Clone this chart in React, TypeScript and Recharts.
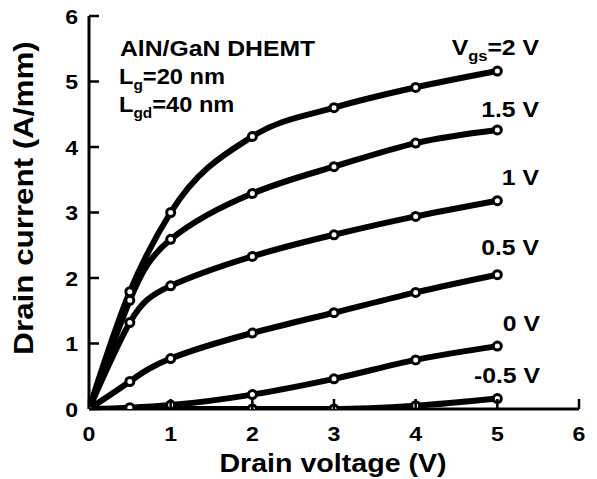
import React from 'react';
import { LineChart, Line, XAxis, YAxis, Customized } from 'recharts';

const vds = [0, 0.5, 1, 2, 3, 4, 5];
const idVgsM05 = [0, 0, 0, 0, 0, 0.05, 0.16];
const idVgs0 = [0, 0.02, 0.06, 0.22, 0.46, 0.75, 0.96];
const idVgs05 = [0, 0.42, 0.77, 1.16, 1.47, 1.78, 2.05];
const idVgs1 = [0, 1.32, 1.88, 2.33, 2.66, 2.94, 3.18];
const idVgs15 = [0, 1.66, 2.59, 3.29, 3.7, 4.06, 4.26];
const idVgs2 = [0, 1.79, 3.0, 4.16, 4.6, 4.91, 5.16];
const xTicks = [0, 1, 2, 3, 4, 5, 6];
const yTicks = [0, 1, 2, 3, 4, 5, 6];

const data = vds.map((v, i) => ({
  vds: v,
  m05: idVgsM05[i],
  v0: idVgs0[i],
  v05: idVgs05[i],
  v1: idVgs1[i],
  v15: idVgs15[i],
  v2: idVgs2[i],
}));

const seriesKeys = ['m05', 'v0', 'v05', 'v1', 'v15', 'v2'];
const seriesCurve: Record<string, any> = {
  m05: 'monotone',
  v0: 'monotone',
  v05: 'natural',
  v1: 'natural',
  v15: 'natural',
  v2: 'monotone',
};

const FONT = '"Liberation Sans", Arial, Helvetica, sans-serif';
const SX = 1.1;

const BottomTick = (props: any) => {
  const { x, y, payload } = props;
  return (
    <g>
      <line x1={x} y1={y} x2={x} y2={y - 10} stroke="#000" strokeWidth={2.5} />
      <text
        transform={`translate(${x},${y + 32}) scale(${SX},1)`}
        textAnchor="middle"
        fontFamily={FONT}
        fontWeight="bold"
        fontSize={21}
        fill="#000"
      >
        {payload.value}
      </text>
    </g>
  );
};

const TopTick = (props: any) => {
  const { x, y } = props;
  return <line x1={x} y1={y} x2={x} y2={y + 10} stroke="#000" strokeWidth={2.5} />;
};

const LeftTick = (props: any) => {
  const { x, y, payload } = props;
  return (
    <g>
      <line x1={x} y1={y} x2={x + 10} y2={y} stroke="#000" strokeWidth={2.5} />
      <text
        transform={`translate(${x - 11},${y + 7.5}) scale(${SX},1)`}
        textAnchor="end"
        fontFamily={FONT}
        fontWeight="bold"
        fontSize={21}
        fill="#000"
      >
        {payload.value}
      </text>
    </g>
  );
};

const RightTick = (props: any) => {
  const { x, y } = props;
  return <line x1={x} y1={y} x2={x - 10} y2={y} stroke="#000" strokeWidth={2.5} />;
};

const T = ({ x, y, anchor = 'start', size = 21, children }: any) => (
  <text
    transform={`translate(${x},${y}) scale(${SX},1)`}
    textAnchor={anchor}
    fontFamily={FONT}
    fontWeight="bold"
    fontSize={size}
    fill="#000"
  >
    {children}
  </text>
);

const Labels = () => (
  <g>
    <T x={120} y={56} size={22.5}>AlN/GaN DHEMT</T>
    <T x={119} y={84} size={21.5}>
      L<tspan fontSize={14} dy={6}>g</tspan>
      <tspan dy={-6}>=20 nm</tspan>
    </T>
    <T x={119} y={112} size={21.5}>
      L<tspan fontSize={14} dy={6}>gd</tspan>
      <tspan dy={-6}>=40 nm</tspan>
    </T>
    <T x={539} y={55} anchor="end" size={22.5}>
      V<tspan fontSize={15} dy={6}>gs</tspan>
      <tspan dy={-6}>=2 V</tspan>
    </T>
    <T x={539} y={117} anchor="end" size={22.5}>1.5 V</T>
    <T x={539} y={185} anchor="end" size={22.5}>1 V</T>
    <T x={539} y={255} anchor="end" size={22.5}>0.5 V</T>
    <T x={540} y={331} anchor="end" size={22.5}>0 V</T>
    <T x={540} y={383} anchor="end" size={22.5}>-0.5 V</T>
    <T x={333} y={472} anchor="middle" size={26}>Drain voltage (V)</T>
    <g transform="translate(33,198) rotate(-90)">
      <text
        transform={`scale(${SX},1)`}
        textAnchor="middle"
        fontFamily={FONT}
        fontWeight="bold"
        fontSize={28.5}
        fill="#000"
      >
        Drain current (A/mm)
      </text>
    </g>
  </g>
);

export default function App() {
  return (
    <div style={{ position: 'absolute', left: 0, top: 0, width: 597, height: 479, background: '#fff' }}>
      <LineChart
        width={597}
        height={479}
        data={data}
        margin={{ top: 16, right: 18, bottom: 0, left: 0 }}
      >
        <XAxis
          dataKey="vds"
          type="number"
          domain={[0, 6]}
          ticks={xTicks}
          interval={0}
          height={70}
          tickSize={0}
          tickMargin={0}
          axisLine={{ stroke: '#000', strokeWidth: 3 }}
          tick={<BottomTick />}
          allowDataOverflow
        />
        <XAxis
          xAxisId="top"
          orientation="top"
          dataKey="vds"
          type="number"
          domain={[0, 6]}
          ticks={xTicks}
          interval={0}
          height={0}
          tickSize={0}
          tickMargin={0}
          axisLine={{ stroke: '#000', strokeWidth: 3 }}
          tick={<TopTick />}
          allowDataOverflow
        />
        <YAxis
          type="number"
          domain={[0, 6]}
          ticks={yTicks}
          interval={0}
          width={89}
          tickSize={0}
          tickMargin={0}
          axisLine={{ stroke: '#000', strokeWidth: 3 }}
          tick={<LeftTick />}
          allowDataOverflow
        />
        <YAxis
          yAxisId="right"
          orientation="right"
          type="number"
          domain={[0, 6]}
          ticks={yTicks}
          interval={0}
          width={0}
          tickSize={0}
          tickMargin={0}
          axisLine={{ stroke: '#000', strokeWidth: 3 }}
          tick={<RightTick />}
          allowDataOverflow
        />
        {seriesKeys.map((k) => (
          <Line
            key={k}
            dataKey={k}
            type={seriesCurve[k]}
            stroke="#000"
            strokeWidth={6}
            dot={{ r: 4, fill: '#fff', stroke: '#000', strokeWidth: 3 }}
            activeDot={false}
            isAnimationActive={false}
          />
        ))}
        <Customized component={<Labels />} />
      </LineChart>
    </div>
  );
}
